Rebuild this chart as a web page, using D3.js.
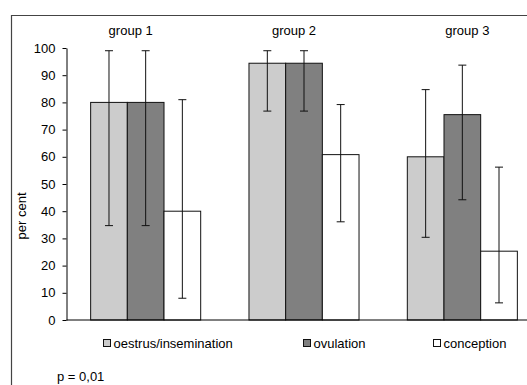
<!DOCTYPE html>
<html>
<head>
<meta charset="utf-8">
<script src="https://cdn.jsdelivr.net/npm/d3@7"></script>
<style>
  body { margin: 0; background: #fff; }
  svg { display: block; font-family: "Liberation Sans", Arial, sans-serif; }
</style>
</head>
<body>
<svg id="chart"></svg>
<script>
const width = 527;
const height = 385;

// data
const groups = ["group 1", "group 2", "group 3"];
const series = ["oestrus/insemination", "ovulation", "conception"];
const colors = ["#cccccc", "#808080", "#ffffff"];
const values = [
  [80, 80, 40],
  [94.4, 94.4, 60.8],
  [60, 75.5, 25.3]
];
const errHigh = [
  [99, 99, 81],
  [99, 99, 79.2],
  [84.7, 93.7, 56.2]
];
const errLow = [
  [34.7, 34.7, 8],
  [76.8, 76.8, 36.1],
  [30.4, 44.2, 6.3]
];
const yTicks = [0, 10, 20, 30, 40, 50, 60, 70, 80, 90, 100];

const plotLeft = 66.5;
const plotTop = 48;
const plotBottom = 320;
const fs = 13;

const svg = d3.select("#chart").attr("width", width).attr("height", height);

// outer frame (clipped on right and bottom as in the original)
svg.append("path")
  .attr("d", `M11.5,${height + 2} V15.5 H${width + 2}`)
  .attr("fill", "none")
  .attr("stroke", "#444")
  .attr("stroke-width", 1.2);

const x0 = d3.scaleBand()
  .domain(groups)
  .range([plotLeft, plotLeft + 475])
  .paddingInner(0.305)
  .paddingOuter(0.1525);

const x1 = d3.scaleBand()
  .domain(series)
  .range([0, x0.bandwidth()]);

const y = d3.scaleLinear().domain([0, 100]).range([plotBottom, plotTop]);

// y axis
const yAxis = d3.axisLeft(y).tickValues(yTicks).tickSize(4).tickSizeOuter(0).tickPadding(7);
const ya = svg.append("g")
  .attr("transform", `translate(${plotLeft},0)`)
  .call(yAxis);
ya.select(".domain").attr("stroke", "#000");
ya.selectAll(".tick line").attr("stroke", "#000");
ya.selectAll(".tick text").attr("font-size", fs).attr("fill", "#000");

svg.append("text")
  .attr("transform", `translate(26,${(plotTop + plotBottom) / 2 + 32}) rotate(-90)`)
  .attr("text-anchor", "middle")
  .attr("font-size", fs)
  .text("per cent");

// bars
const g = svg.selectAll(".grp")
  .data(groups)
  .enter()
  .append("g")
  .attr("class", "grp")
  .attr("transform", (d) => `translate(${x0(d)},0)`);

g.selectAll("rect")
  .data((d, i) => series.map((s, j) => ({ s, j, v: values[i][j] })))
  .enter()
  .append("rect")
  .attr("x", (d) => x1(d.s))
  .attr("y", (d) => y(d.v))
  .attr("width", x1.bandwidth())
  .attr("height", (d) => y(0) - y(d.v))
  .attr("fill", (d) => colors[d.j])
  .attr("stroke", "#111")
  .attr("stroke-width", 1);

// error bars
const eb = g.selectAll(".err")
  .data((d, i) => series.map((s, j) => ({ s, hi: errHigh[i][j], lo: errLow[i][j] })))
  .enter()
  .append("g")
  .attr("class", "err")
  .attr("transform", (d) => `translate(${x1(d.s) + x1.bandwidth() / 2},0)`)
  .attr("stroke", "#111")
  .attr("stroke-width", 1);
eb.append("line").attr("y1", (d) => y(d.hi)).attr("y2", (d) => y(d.lo));
eb.append("line").attr("x1", -4).attr("x2", 4).attr("y1", (d) => y(d.hi)).attr("y2", (d) => y(d.hi));
eb.append("line").attr("x1", -4).attr("x2", 4).attr("y1", (d) => y(d.lo)).attr("y2", (d) => y(d.lo));

// x axis line
svg.append("line")
  .attr("x1", plotLeft).attr("x2", width)
  .attr("y1", y(0)).attr("y2", y(0))
  .attr("stroke", "#000");

// group labels
const labelShift = [-15, -10, 5];
svg.selectAll(".glabel")
  .data(groups)
  .enter()
  .append("text")
  .attr("class", "glabel")
  .attr("x", (d, i) => x0(d) + x0.bandwidth() / 2 + labelShift[i])
  .attr("y", 35)
  .attr("text-anchor", "middle")
  .attr("font-size", fs)
  .text((d) => d);

// legend
const legendX = [103, 303, 433];
const leg = svg.selectAll(".leg")
  .data(series)
  .enter()
  .append("g")
  .attr("class", "leg")
  .attr("transform", (d, i) => `translate(${legendX[i]},339)`);
leg.append("rect")
  .attr("x", 0.5).attr("y", 0.5)
  .attr("width", 7).attr("height", 7)
  .attr("fill", (d, i) => colors[i])
  .attr("stroke", "#111");
leg.append("text")
  .attr("x", 10.5)
  .attr("y", 8.5)
  .attr("font-size", fs)
  .text((d) => d);

svg.append("text")
  .attr("x", 57)
  .attr("y", 381)
  .attr("font-size", fs)
  .text("p = 0,01");
</script>
</body>
</html>
